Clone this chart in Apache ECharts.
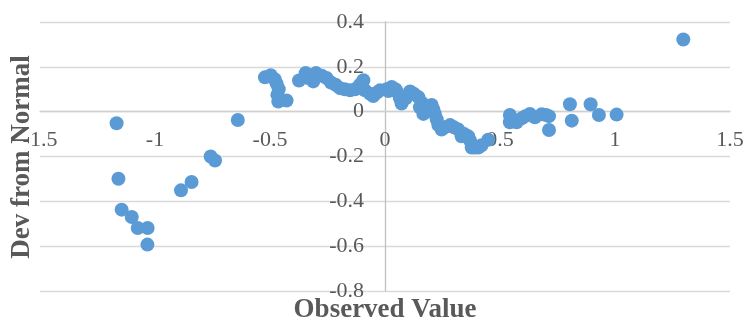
<!DOCTYPE html>
<html>
<head>
<meta charset="utf-8">
<script src="https://cdn.jsdelivr.net/npm/echarts@6/dist/echarts.min.js"></script>
<style>
  html, body { margin: 0; padding: 0; background: #ffffff; }
  #chart { width: 745px; height: 321px; }
</style>
</head>
<body>
<div id="chart"></div>
<script>
// Observed values (x) and their deviation from the normal curve (y)
const observed = [
  -1.167, -1.159, -1.145, -1.101, -1.075, -1.032, -1.033, -0.887, -0.841, -0.758, -0.739, -0.640,
  -0.522, -0.497, -0.480, -0.471, -0.462, -0.468, -0.464, -0.428,
  -0.374, -0.345, -0.335, -0.300, -0.312, -0.275, -0.254, -0.235, -0.215, -0.196,
  -0.175, -0.152, -0.130, -0.109, -0.094, -0.087, -0.065, -0.051, -0.035, -0.022,
  0.007, 0.015, 0.029, 0.045, 0.051, 0.065, 0.072, 0.090, 0.109, 0.125,
  0.145, 0.152, 0.160, 0.167, 0.185, 0.203, 0.210, 0.217, 0.225, 0.232,
  0.246, 0.260, 0.283, 0.300, 0.319, 0.333, 0.345, 0.362, 0.370, 0.377,
  0.390, 0.406, 0.420, 0.449,
  0.543, 0.543, 0.572, 0.594, 0.610, 0.630, 0.652, 0.681, 0.700, 0.713,
  0.713, 0.804, 0.812, 0.894, 0.930, 1.007, 1.297
];
const deviation = [
  -0.052, -0.299, -0.437, -0.470, -0.519, -0.519, -0.593, -0.351, -0.314, -0.200, -0.218, -0.037,
  0.153, 0.163, 0.145, 0.125, 0.100, 0.075, 0.045, 0.050,
  0.139, 0.172, 0.150, 0.172, 0.135, 0.160, 0.150, 0.130, 0.120, 0.105,
  0.100, 0.095, 0.100, 0.120, 0.140, 0.095, 0.080, 0.070, 0.085, 0.095,
  0.100, 0.092, 0.110, 0.100, 0.090, 0.060, 0.036, 0.060, 0.090, 0.080,
  0.065, 0.020, 0.040, -0.010, 0.005, 0.030, 0.010, -0.010, -0.035, -0.060,
  -0.080, -0.070, -0.060, -0.070, -0.080, -0.110, -0.100, -0.110, -0.130, -0.160,
  -0.160, -0.160, -0.150, -0.125,
  -0.015, -0.047, -0.047, -0.030, -0.020, -0.010, -0.025, -0.012, -0.015, -0.020,
  -0.082, 0.033, -0.040, 0.033, -0.015, -0.013, 0.322
];

// Axis ranges and tick steps
const xRange = [-1.5, 1.5];
const xStep = 0.5;
const yRange = [-0.8, 0.4];
const yStep = 0.2;

const xTitle = 'Observed Value';
const yTitle = 'Dev from Normal';

const points = observed.map((x, i) => [x, deviation[i]]);

// Plot box in pixels
const W = 745, H = 321;
const box = { left: 40, right: 15, top: 22, bottom: 30 };
const plotW = W - box.left - box.right;
const plotH = H - box.top - box.bottom;

// Shift each axis from the plot edge to where the other axis is zero
const xAxisShift = -plotH * (0 - yRange[0]) / (yRange[1] - yRange[0]);
const yAxisShift = -plotW * (0 - xRange[0]) / (xRange[1] - xRange[0]);
const yAxisX = box.left - yAxisShift;

const labelFont = { fontFamily: '"Liberation Serif", "Times New Roman", serif', fontSize: 22, color: '#595959' };
const titleFont = { fontFamily: '"Liberation Serif", "Times New Roman", serif', fontSize: 27, fontWeight: 'bold', fill: '#595959' };

const fmt = v => String(Math.round(v * 10) / 10);

const chart = echarts.init(document.getElementById('chart'), null, { renderer: 'canvas' });
chart.setOption({
  animation: false,
  backgroundColor: '#ffffff',
  grid: Object.assign({ containLabel: false, outerBoundsMode: 'none' }, box),
  xAxis: {
    type: 'value',
    position: 'bottom',
    offset: xAxisShift,
    min: xRange[0], max: xRange[1], interval: xStep,
    axisLine: { show: true, onZero: false, lineStyle: { color: '#d0d0d0', width: 1.3 } },
    axisTick: { show: false },
    splitLine: { show: false },
    axisLabel: Object.assign({ margin: 18, showMinLabel: true, showMaxLabel: true, formatter: fmt }, labelFont)
  },
  yAxis: {
    type: 'value',
    position: 'left',
    offset: yAxisShift,
    min: yRange[0], max: yRange[1], interval: yStep,
    axisLine: { show: true, onZero: false, lineStyle: { color: '#bfbfbf', width: 1.3 } },
    axisTick: { show: false },
    splitLine: { show: true, lineStyle: { color: '#d9d9d9', width: 1.3 } },
    axisLabel: Object.assign({ margin: 21, showMinLabel: true, showMaxLabel: true, formatter: fmt }, labelFont)
  },
  graphic: [
    {
      type: 'text', x: yAxisX, y: 297,
      style: Object.assign({ text: xTitle, align: 'center', verticalAlign: 'top' }, titleFont)
    },
    {
      type: 'text', x: 9, y: 157, rotation: Math.PI / 2,
      style: Object.assign({ text: yTitle, align: 'center', verticalAlign: 'top' }, titleFont)
    }
  ],
  series: [{
    type: 'scatter',
    data: points,
    symbol: 'circle',
    symbolSize: 14,
    itemStyle: { color: '#5b9bd5', opacity: 1 }
  }]
});
</script>
</body>
</html>
